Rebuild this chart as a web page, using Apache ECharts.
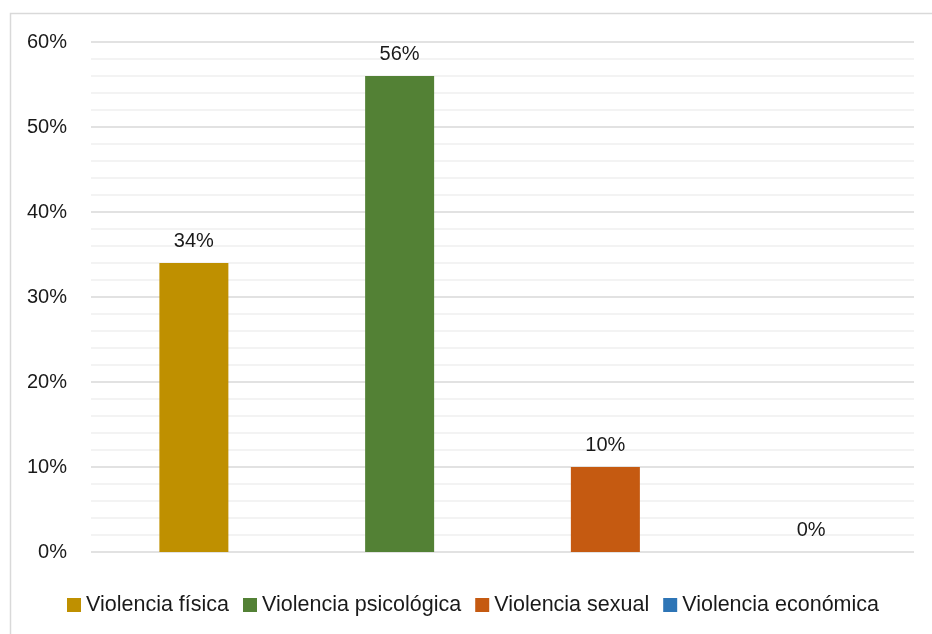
<!DOCTYPE html>
<html>
<head>
<meta charset="utf-8">
<script src="https://cdn.jsdelivr.net/npm/echarts@6/dist/echarts.min.js"></script>
<style>
  html, body { margin: 0; padding: 0; background: #fff; }
  #chart { width: 932px; height: 634px; }
</style>
</head>
<body>
<div id="chart"></div>
<script>
// Tipos de violencia y porcentaje de casos
const categories = ['Violencia física', 'Violencia psicológica', 'Violencia sexual', 'Violencia económica'];
const values = [34, 56, 10, 0];
const colors = ['#BF9000', '#538135', '#C55A11', '#2E75B6'];
const yTicks = [0, 10, 20, 30, 40, 50, 60];

const FONT = 'Liberation Sans, Arial, sans-serif';

// One series per category so each gets its own legend entry;
// stacking keeps every bar centred on its own category slot.
const series = categories.map((name, i) => ({
  name: name,
  type: 'bar',
  stack: 'total',
  barWidth: 69,
  data: categories.map((_, j) => (j === i ? values[i] : '-')),
  itemStyle: { color: colors[i] },
  label: {
    show: true,
    position: 'top',
    distance: 12,
    formatter: p => p.value + '%',
    color: '#1a1a1a',
    fontSize: 20,
    fontFamily: FONT
  },
  emphasis: { disabled: true }
}));

const chart = echarts.init(document.getElementById('chart'), null, { renderer: 'canvas' });
chart.setOption({
  animation: false,
  backgroundColor: '#fff',
  graphic: [{
    type: 'rect',
    shape: { x: 10.5, y: 13.5, width: 940, height: 640 },
    style: { fill: 'none', stroke: '#d9d9d9', lineWidth: 1.5 },
    silent: true
  }],
  grid: { left: 91, right: 18, top: 42, bottom: 82, containLabel: false },
  xAxis: {
    type: 'category',
    data: categories,
    axisLine: { show: false },
    axisTick: { show: false },
    axisLabel: { show: false }
  },
  yAxis: {
    type: 'value',
    min: yTicks[0],
    max: yTicks[yTicks.length - 1],
    interval: 10,
    axisLine: { show: false },
    axisTick: { show: false },
    axisLabel: {
      formatter: v => v + '%',
      color: '#1a1a1a',
      fontSize: 20,
      fontFamily: FONT,
      margin: 24,
      padding: [4, 0, 0, 0]
    },
    splitLine: { lineStyle: { color: '#d9d9d9', width: 1.5 } },
    minorTick: { show: false, splitNumber: 5 },
    minorSplitLine: { show: true, lineStyle: { color: '#f0f0f0', width: 1.5 } }
  },
  legend: {
    bottom: 13,
    left: 62,
    itemWidth: 14,
    itemHeight: 14,
    itemGap: 14,
    icon: 'rect',
    textStyle: { color: '#1a1a1a', fontSize: 21.5, fontFamily: FONT, padding: [0, 0, 0, 0] },
    data: categories
  },
  series: series
});
</script>
</body>
</html>
